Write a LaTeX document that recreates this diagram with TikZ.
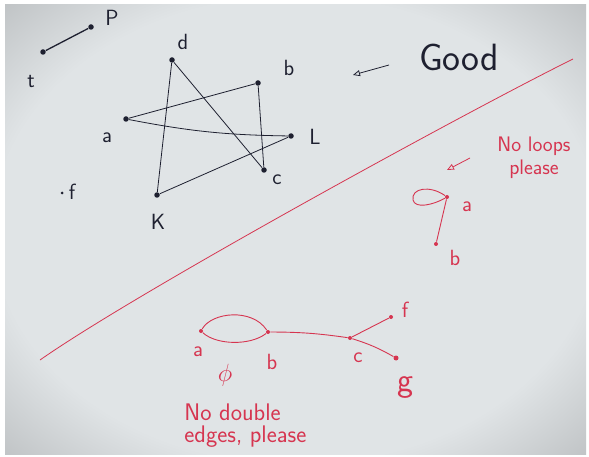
\documentclass[tikz,border=0pt]{standalone}
\usetikzlibrary{arrows.meta}
\definecolor{paper}{HTML}{E0E4E6}
\definecolor{papermid}{HTML}{A4A7A9}
\definecolor{paperdark}{HTML}{76787A}
\definecolor{inkblack}{HTML}{1E2030}
\definecolor{inkred}{HTML}{D63550}
\pgfdeclareradialshading{vignette}{\pgfpoint{0bp}{0bp}}{color(0bp)=(paper); color(26bp)=(paper); color(44bp)=(papermid); color(50bp)=(paperdark)}

\begin{document}
\begin{tikzpicture}[
  x=1pt, y=-1pt,
  line width=0.9pt,
  bdot/.style={circle, fill=inkblack, inner sep=0pt, minimum size=5.5pt},
  rdot/.style={circle, fill=inkred, inner sep=0pt, minimum size=4pt},
  blabel/.style={text=inkblack, font=\sffamily\fontsize{22}{24}\selectfont, inner sep=0pt},
  rlabel/.style={text=inkred, font=\sffamily\fontsize{22}{24}\selectfont, inner sep=0pt},
  note/.style={text=inkred, font=\sffamily\fontsize{21}{23}\selectfont, align=left, inner sep=0pt},
  bedge/.style={draw=inkblack, line width=0.8pt},
  redge/.style={draw=inkred, line width=0.9pt},
  hint/.style={-{Triangle[open, length=7pt, width=6pt]}, line width=0.8pt}
]
  \fill[white] (0,0) rectangle (589,457);
  \shade[shading=vignette] (5,5) rectangle (586,454);

  % good graph
  \node[bdot] (t) at (43,52) {};
  \node[bdot] (p) at (91,27) {};
  \node[bdot] (d) at (172,60) {};
  \node[bdot] (b) at (258,83) {};
  \node[bdot] (a) at (126,119) {};
  \node[bdot] (L) at (291,136) {};
  \node[bdot] (c) at (264,170) {};
  \node[bdot] (K) at (157,195) {};
  \node[bdot, minimum size=3pt] (f) at (62,193) {};
  \node[blabel] (lt) at (31,82) {t};
  \node[blabel] (lp) at (112,18) {P};
  \node[blabel] (ld) at (183,42) {d};
  \node[blabel] (lb) at (289,68) {b};
  \node[blabel] (la) at (107,138) {a};
  \node[blabel] (lL) at (315,137) {L};
  \node[blabel] (lc) at (277,180) {c};
  \node[blabel] (lK) at (158,222) {K};
  \node[blabel] (lf) at (72,192) {f};
  \draw[bedge, line width=1.3pt] (t) -- (p);
  \draw[bedge] (d) -- (K);
  \draw[bedge] (d) -- (c);
  \draw[bedge] (a) -- (b);
  \draw[bedge] (a) to[bend right=5] (L);
  \draw[bedge] (b) -- (c);
  \draw[bedge] (K) -- (L);

  \node[text=inkblack, font=\sffamily\fontsize{38}{40}\selectfont, inner sep=0pt] (good) at (459,57) {Good};
  \coordinate (gfrom) at (389,65);
  \coordinate (gto) at (353,75);
  \draw[hint, inkblack] (gfrom) -- (gto);

  % divider
  \draw[inkred, line width=0.8pt] (573,59) .. controls (470,110) and (140,290) .. (40,360);

  % loop
  \node[rdot] (A) at (447,197) {};
  \node[rdot] (B) at (436,244) {};
  \node[rlabel] (lA) at (467,207) {a};
  \node[rlabel] (lB) at (455,258) {b};
  \draw[redge] (A) .. controls (430,185) and (411,188) .. (413,200) .. controls (415,209) and (433,205) .. (A);
  \draw[redge] (A) -- (B);
  \node[note, align=center] (loops) at (534,158) {No loops\\please};
  \coordinate (lfrom) at (470,158);
  \coordinate (lto) at (447,170);
  \draw[hint, inkred] (lfrom) -- (lto);

  % double edge
  \node[rdot] (a2) at (201,331) {};
  \node[rdot] (b2) at (268,332) {};
  \node[rdot] (c2) at (350,338) {};
  \node[rdot] (f2) at (391,317) {};
  \node[rdot, minimum size=5pt] (g2) at (396,358) {};
  \node[rlabel] (la2) at (198,352) {a};
  \node[rlabel] (lb2) at (272,362) {b};
  \node[rlabel] (lc2) at (358,358) {c};
  \node[rlabel] (lf2) at (405,310) {f};
  \node[rlabel, font=\sffamily\fontsize{34}{36}\selectfont] (lg2) at (405,388) {g};
  \node[rlabel, font=\fontsize{24}{26}\selectfont] (phi) at (225,375) {$\phi$};
  \draw[redge] (a2) .. controls (212,312) and (252,308) .. (b2);
  \draw[redge] (a2) .. controls (216,345) and (250,346) .. (b2);
  \draw[redge] (b2) to[bend left=4] (c2);
  \draw[redge] (c2) -- (f2);
  \draw[redge] (c2) to[bend left=6] (g2);
  \node[note, anchor=west, font=\sffamily\fontsize{24}{22}\selectfont] (double) at (184,426) {No double\\edges, please};
\end{tikzpicture}
\end{document}
